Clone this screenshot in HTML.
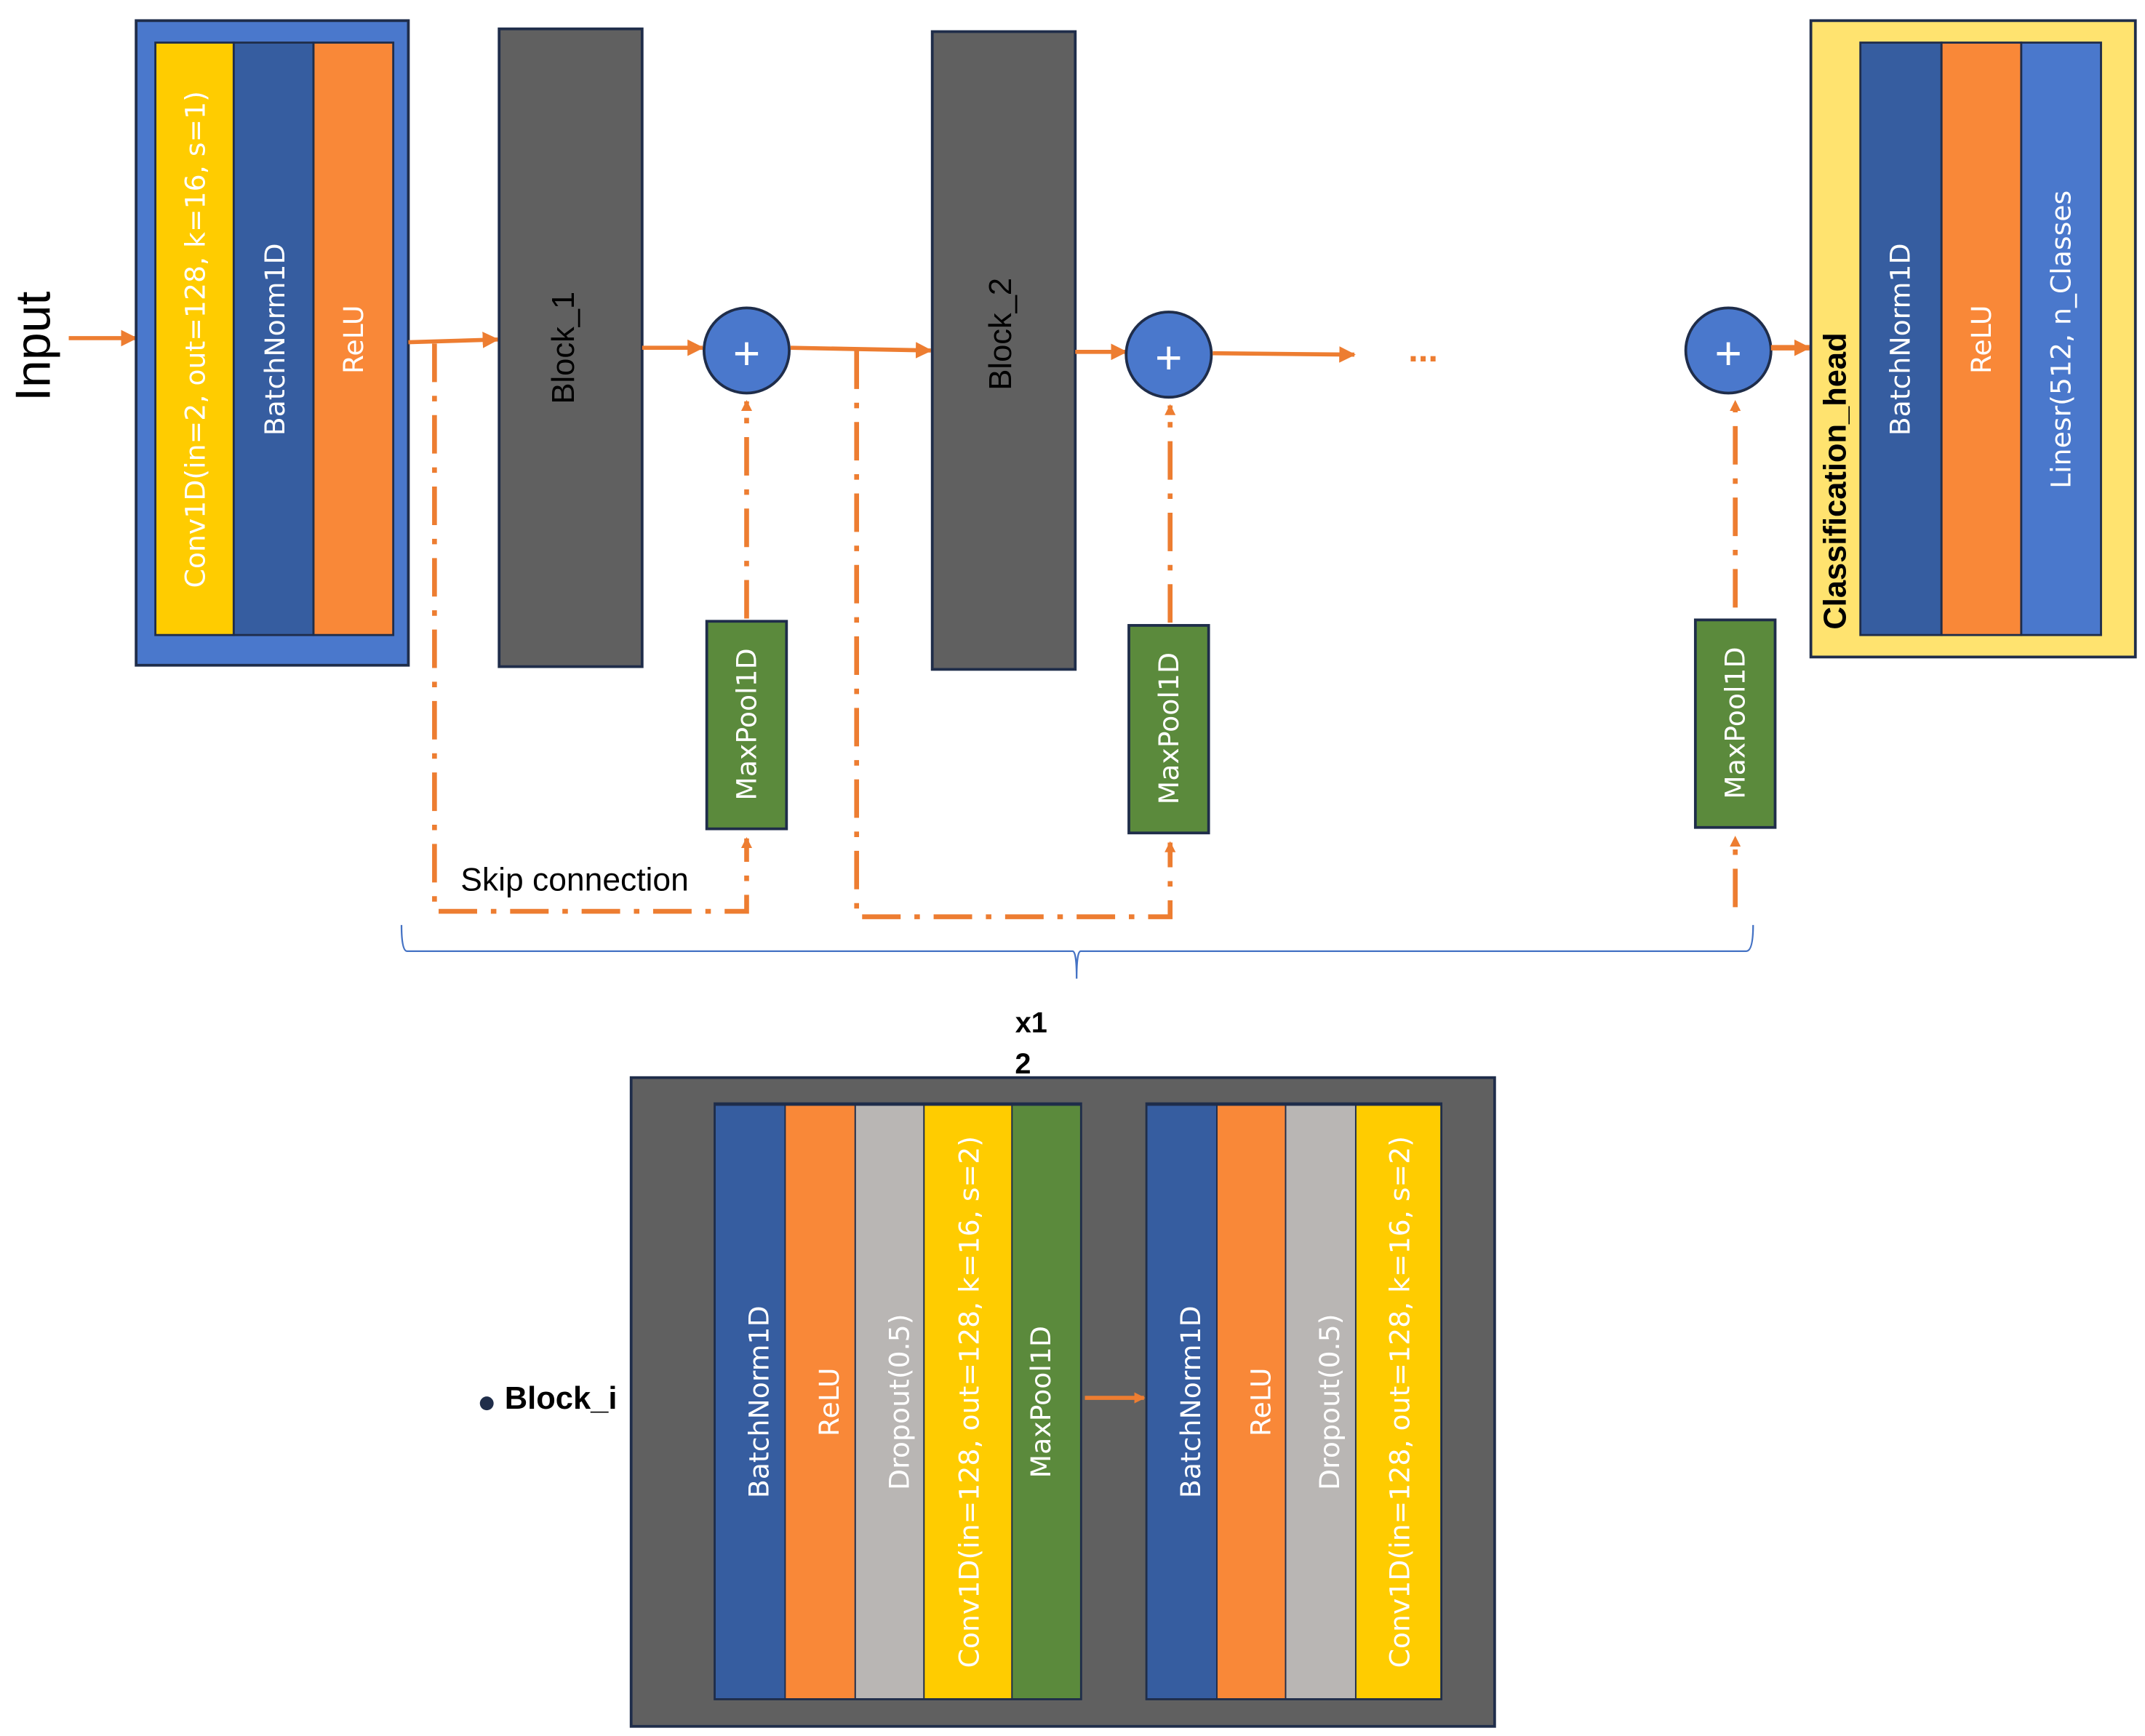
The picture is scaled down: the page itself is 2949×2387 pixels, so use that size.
<!DOCTYPE html>
<html><head><meta charset="utf-8"><style>
html,body{margin:0;padding:0;background:#fff;}
svg{display:block;}
text{font-family:"Liberation Sans","DejaVu Sans",sans-serif;}
.w{fill:#fff;font-size:20px;font-family:"DejaVu Sans","Liberation Sans",sans-serif;}
</style></head><body>
<svg width="2949" height="2387" viewBox="0 0 1560 1263" preserveAspectRatio="none" xmlns="http://www.w3.org/2000/svg">
<defs>
<marker id="ah" markerWidth="8" markerHeight="8" refX="7" refY="4" orient="auto" markerUnits="userSpaceOnUse"><path d="M0,0 L8,4 L0,8 z" fill="#ED7D31"/></marker>
<marker id="ah2" markerWidth="12" markerHeight="12" refX="11" refY="6" orient="auto" markerUnits="userSpaceOnUse"><path d="M0,0 L12,6 L0,12 z" fill="#ED7D31"/></marker>
</defs>
<rect width="1560" height="1263" fill="#fff"/>

<text transform="translate(24,252) rotate(-90)" text-anchor="middle" dominant-baseline="central" font-size="36">Input</text>
<line x1="50" y1="246" x2="99" y2="246" stroke="#ED7D31" stroke-width="3" marker-end="url(#ah2)"/>

<rect x="99" y="15" width="198" height="469" fill="#4A78CC" stroke="#1F2D4A" stroke-width="2"/>
<rect x="113" y="31" width="57" height="431" fill="#FFCC00" stroke="#1F2D4A" stroke-width="1.5"/>
<rect x="170" y="31" width="58" height="431" fill="#365DA0" stroke="#1F2D4A" stroke-width="1.5"/>
<rect x="228" y="31" width="58" height="431" fill="#F98838" stroke="#1F2D4A" stroke-width="1.5"/>
<text class="w" transform="translate(142,247) rotate(-90)" text-anchor="middle" dominant-baseline="central">Conv1D(in=2, out=128, k=16, s=1)</text>
<text class="w" transform="translate(200,247) rotate(-90)" text-anchor="middle" dominant-baseline="central">BatchNorm1D</text>
<text class="w" transform="translate(257,247) rotate(-90)" text-anchor="middle" dominant-baseline="central">ReLU</text>

<line x1="297" y1="249" x2="362" y2="247" stroke="#ED7D31" stroke-width="3" marker-end="url(#ah2)"/>

<rect x="363" y="21" width="104" height="464" fill="#606060" stroke="#1F2D4A" stroke-width="2"/>
<text transform="translate(410,253) rotate(-90)" text-anchor="middle" dominant-baseline="central" font-size="23">Block_1</text>
<line x1="467" y1="253" x2="511" y2="253" stroke="#ED7D31" stroke-width="3" marker-end="url(#ah2)"/>
<circle cx="543" cy="255" r="31" fill="#4A78CC" stroke="#1F2D4A" stroke-width="2"/>
<text x="543" y="257" text-anchor="middle" dominant-baseline="central" fill="#fff" font-size="34">+</text>
<line x1="575" y1="253" x2="677" y2="255" stroke="#ED7D31" stroke-width="3" marker-end="url(#ah2)"/>

<rect x="678" y="23" width="104" height="464" fill="#606060" stroke="#1F2D4A" stroke-width="2"/>
<text transform="translate(728,243) rotate(-90)" text-anchor="middle" dominant-baseline="central" font-size="23">Block_2</text>
<line x1="782" y1="256" x2="819" y2="256" stroke="#ED7D31" stroke-width="3" marker-end="url(#ah2)"/>
<circle cx="850" cy="258" r="31" fill="#4A78CC" stroke="#1F2D4A" stroke-width="2"/>
<text x="850" y="260" text-anchor="middle" dominant-baseline="central" fill="#fff" font-size="34">+</text>
<line x1="882" y1="257" x2="985" y2="258" stroke="#ED7D31" stroke-width="3" marker-end="url(#ah2)"/>
<text x="1035" y="263" text-anchor="middle" fill="#ED7D31" font-size="26" font-weight="bold">...</text>

<circle cx="1257" cy="255" r="31" fill="#4A78CC" stroke="#1F2D4A" stroke-width="2"/>
<text x="1257" y="257" text-anchor="middle" dominant-baseline="central" fill="#fff" font-size="34">+</text>
<line x1="1288" y1="253" x2="1316" y2="253" stroke="#ED7D31" stroke-width="4" marker-end="url(#ah2)"/>

<rect x="1317" y="15" width="236" height="463" fill="#FFE36F" stroke="#1F2D4A" stroke-width="2"/>
<rect x="1353" y="31" width="59" height="431" fill="#365DA0" stroke="#1F2D4A" stroke-width="1.5"/>
<rect x="1412" y="31" width="58" height="431" fill="#F98838" stroke="#1F2D4A" stroke-width="1.5"/>
<rect x="1470" y="31" width="58" height="431" fill="#4A78CC" stroke="#1F2D4A" stroke-width="1.5"/>
<text transform="translate(1335,350) rotate(-90)" text-anchor="middle" dominant-baseline="central" font-size="23" font-weight="bold">Classification_head</text>
<text class="w" transform="translate(1382,247) rotate(-90)" text-anchor="middle" dominant-baseline="central">BatchNorm1D</text>
<text class="w" transform="translate(1441,247) rotate(-90)" text-anchor="middle" dominant-baseline="central">ReLU</text>
<text class="w" transform="translate(1499,247) rotate(-90)" text-anchor="middle" dominant-baseline="central">Linesr(512, n_Classes</text>

<rect x="514" y="452" width="58" height="151" fill="#5B8A3C" stroke="#1F2D4A" stroke-width="2"/>
<text class="w" transform="translate(543,527) rotate(-90)" text-anchor="middle" dominant-baseline="central">MaxPool1D</text>
<rect x="821" y="455" width="58" height="151" fill="#5B8A3C" stroke="#1F2D4A" stroke-width="2"/>
<text class="w" transform="translate(850,530) rotate(-90)" text-anchor="middle" dominant-baseline="central">MaxPool1D</text>
<rect x="1233" y="451" width="58" height="151" fill="#5B8A3C" stroke="#1F2D4A" stroke-width="2"/>
<text class="w" transform="translate(1262,526) rotate(-90)" text-anchor="middle" dominant-baseline="central">MaxPool1D</text>

<g stroke="#ED7D31" stroke-width="3.5" fill="none" stroke-dasharray="28,10,4,10">
<line x1="543" y1="450" x2="543" y2="292" marker-end="url(#ah)"/>
<line x1="851" y1="453" x2="851" y2="295" marker-end="url(#ah)"/>
<line x1="1262" y1="442" x2="1262" y2="292" marker-end="url(#ah)"/>
<polyline points="316,250 316,663 543,663 543,610" marker-end="url(#ah)"/>
<polyline points="623,255 623,667 851,667 851,613" marker-end="url(#ah)"/>
<line x1="1262" y1="660" x2="1262" y2="609" marker-end="url(#ah)"/>
</g>
<text x="335" y="648" font-size="23.5">Skip connection</text>

<path d="M292,673 Q292,692 296,692 L780,692 Q783,692 783,712 Q783,692 786,692 L1270,692 Q1275,692 1275,673" fill="none" stroke="#4472C4" stroke-width="1.2"/>
<text x="750" y="751" text-anchor="middle" font-size="21" font-weight="bold">x1</text>
<text x="744" y="781" text-anchor="middle" font-size="21" font-weight="bold">2</text>

<circle cx="354" cy="1021" r="5" fill="#1F2D4A"/>
<text x="367" y="1025" font-size="23" font-weight="bold">Block_i</text>
<rect x="459" y="784" width="628" height="472" fill="#606060" stroke="#1F2D4A" stroke-width="2"/>
<rect x="519" y="802" width="268" height="435" fill="#1F2D4A"/>
<rect x="520" y="804" width="51" height="432" fill="#365DA0" stroke="#1F2D4A" stroke-width="1"/>
<rect x="571" y="804" width="51" height="432" fill="#F98838" stroke="#1F2D4A" stroke-width="1"/>
<rect x="622" y="804" width="50" height="432" fill="#B9B6B4" stroke="#1F2D4A" stroke-width="1"/>
<rect x="672" y="804" width="64" height="432" fill="#FFCC00" stroke="#1F2D4A" stroke-width="1"/>
<rect x="736" y="804" width="50" height="432" fill="#5B8A3C" stroke="#1F2D4A" stroke-width="1"/>
<text class="w" transform="translate(552,1020) rotate(-90)" text-anchor="middle" dominant-baseline="central">BatchNorm1D</text>
<text class="w" transform="translate(603,1020) rotate(-90)" text-anchor="middle" dominant-baseline="central">ReLU</text>
<text class="w" transform="translate(654,1020) rotate(-90)" text-anchor="middle" dominant-baseline="central">Dropout(0.5)</text>
<text class="w" transform="translate(705,1020) rotate(-90)" text-anchor="middle" dominant-baseline="central">Conv1D(in=128, out=128, k=16, s=2)</text>
<text class="w" transform="translate(757,1020) rotate(-90)" text-anchor="middle" dominant-baseline="central">MaxPool1D</text>

<line x1="789" y1="1017" x2="832" y2="1017" stroke="#ED7D31" stroke-width="3" marker-end="url(#ah)"/>

<rect x="833" y="802" width="216" height="435" fill="#1F2D4A"/>
<rect x="834" y="804" width="51" height="432" fill="#365DA0" stroke="#1F2D4A" stroke-width="1"/>
<rect x="885" y="804" width="50" height="432" fill="#F98838" stroke="#1F2D4A" stroke-width="1"/>
<rect x="935" y="804" width="51" height="432" fill="#B9B6B4" stroke="#1F2D4A" stroke-width="1"/>
<rect x="986" y="804" width="62" height="432" fill="#FFCC00" stroke="#1F2D4A" stroke-width="1"/>
<text class="w" transform="translate(866,1020) rotate(-90)" text-anchor="middle" dominant-baseline="central">BatchNorm1D</text>
<text class="w" transform="translate(917,1020) rotate(-90)" text-anchor="middle" dominant-baseline="central">ReLU</text>
<text class="w" transform="translate(967,1020) rotate(-90)" text-anchor="middle" dominant-baseline="central">Dropout(0.5)</text>
<text class="w" transform="translate(1018,1020) rotate(-90)" text-anchor="middle" dominant-baseline="central">Conv1D(in=128, out=128, k=16, s=2)</text>
</svg>
</body></html>
